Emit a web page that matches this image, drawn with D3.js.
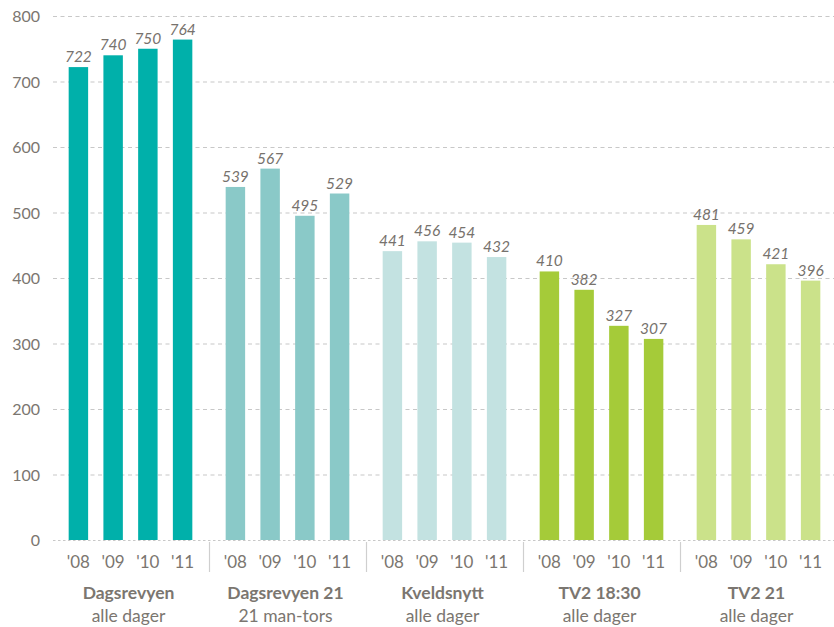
<!DOCTYPE html>
<html lang="no">
<head>
<meta charset="UTF-8">
<title>Seere nyhetssendinger</title>
<script src="https://d3js.org/d3.v7.min.js"></script>
<style>
  body { margin: 0; background: #ffffff; font-family: Lato, "Open Sans", sans-serif; }
  .tick-label { fill: #7b7670; font-size: 16px; }
  .yr { font-size: 17px; }
  .val { fill: #77726d; font-size: 15.5px; font-style: italic; }
  .grp { fill: #7b7670; font-size: 17.5px; font-weight: bold; }
  .sub { fill: #7b7670; font-size: 17.5px; }
</style>
</head>
<body>
<svg id="chart" width="834" height="627"></svg>
<script>
  // data
  const groups = ["Dagsrevyen", "Dagsrevyen 21", "Kveldsnytt", "TV2 18:30", "TV2 21"];
  const subtitles = ["alle dager", "21 man-tors", "alle dager", "alle dager", "alle dager"];
  const years = ["'08", "'09", "'10", "'11"];
  const dagsrevyen = [722, 740, 750, 764];
  const dagsrevyen21 = [539, 567, 495, 529];
  const kveldsnytt = [441, 456, 454, 432];
  const tv2_1830 = [410, 382, 327, 307];
  const tv2_21 = [481, 459, 421, 396];
  const colors = ["#00b0aa", "#8ac9c8", "#c3e2e1", "#a5cb39", "#cbe28a"];
  const yTicks = [0, 100, 200, 300, 400, 500, 600, 700, 800];

  const series = [dagsrevyen, dagsrevyen21, kveldsnytt, tv2_1830, tv2_21];

  const svg = d3.select("#chart");
  const plotLeft = 52, plotRight = 837, plotTop = 16, plotBottom = 540;

  const y = d3.scaleLinear().domain([0, 800]).range([plotBottom, plotTop]);
  const x0 = d3.scaleBand().domain(groups).range([plotLeft, plotRight]);
  const x1 = d3.scaleBand().domain(years).range([0, x0.bandwidth()])
      .paddingInner(0.44).paddingOuter(0.48);

  // gridlines
  svg.append("g").selectAll("line")
    .data(yTicks)
    .join("line")
    .attr("x1", plotLeft + 1).attr("x2", 834)
    .attr("y1", d => y(d) + 0.5).attr("y2", d => y(d) + 0.5)
    .attr("stroke", "#c8c8c8")
    .attr("stroke-width", 1.2)
    .attr("stroke-dasharray", d => d === 0 ? "2.5,2.5" : "4,3.5");

  svg.append("g").selectAll("text")
    .data(yTicks)
    .join("text")
    .attr("class", "tick-label")
    .attr("x", 40)
    .attr("y", d => y(d) + 6)
    .attr("text-anchor", "end")
    .text(d => d);

  // bars
  const g = svg.append("g").selectAll("g")
    .data(groups)
    .join("g")
    .attr("transform", d => `translate(${x0(d)},0)`);

  g.selectAll("rect")
    .data((d, i) => series[i].map((v, j) => ({ year: years[j], value: v, gi: i })))
    .join("rect")
    .attr("x", d => x1(d.year))
    .attr("width", x1.bandwidth())
    .attr("y", d => y(d.value))
    .attr("height", d => y(0) - y(d.value))
    .attr("fill", d => colors[d.gi]);

  g.selectAll("text.val")
    .data((d, i) => series[i].map((v, j) => ({ year: years[j], value: v })))
    .join("text")
    .attr("class", "val")
    .attr("x", d => x1(d.year) + x1.bandwidth() / 2)
    .attr("y", d => y(d.value) - 5)
    .attr("text-anchor", "middle")
    .text(d => d.value);

  g.selectAll("text.yr")
    .data(years)
    .join("text")
    .attr("class", "tick-label yr")
    .attr("x", d => x1(d) + x1.bandwidth() / 2)
    .attr("y", 568)
    .attr("text-anchor", "middle")
    .text(d => d);

  g.append("text")
    .attr("class", "grp")
    .attr("x", x0.bandwidth() / 2 - 2)
    .attr("y", 599)
    .attr("text-anchor", "middle")
    .text(d => d);

  g.append("text")
    .attr("class", "sub")
    .attr("x", x0.bandwidth() / 2 - 2)
    .attr("y", 622)
    .attr("text-anchor", "middle")
    .text((d, i) => subtitles[i]);

  // separators between groups
  svg.append("g").selectAll("line")
    .data(groups.slice(1))
    .join("line")
    .attr("x1", d => x0(d) + 0.5).attr("x2", d => x0(d) + 0.5)
    .attr("y1", plotBottom + 2).attr("y2", 572)
    .attr("stroke", "#cfcfcf")
    .attr("stroke-width", 1.2);
</script>
</body>
</html>
